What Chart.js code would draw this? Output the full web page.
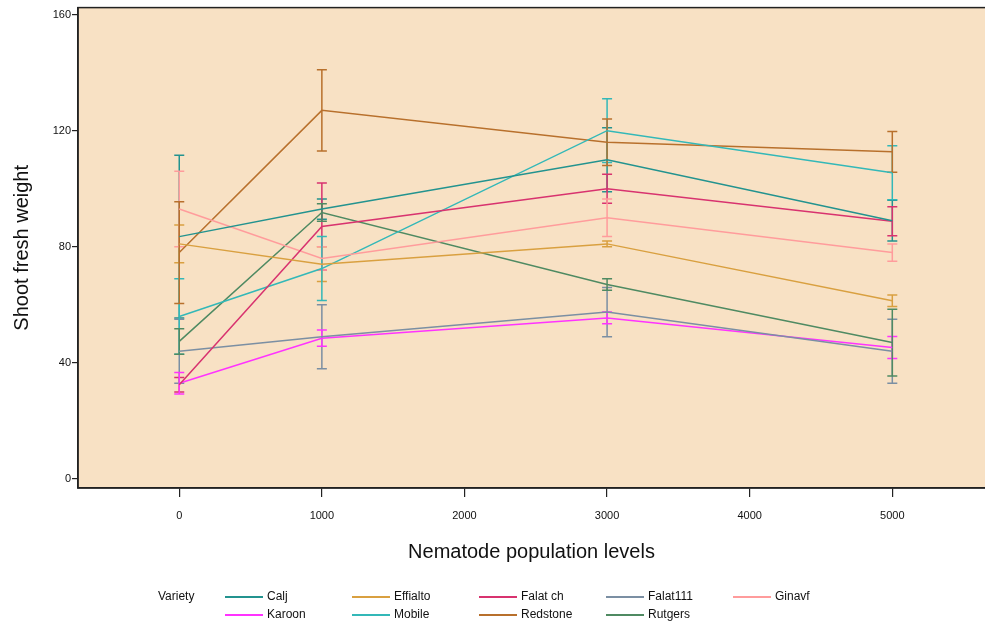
<!DOCTYPE html>
<html>
<head>
<meta charset="utf-8">
<script src="https://cdn.jsdelivr.net/npm/chart.js@4"></script>
<style>
  html, body { margin: 0; padding: 0; background: #fff; }
  #chart { display: block; }
</style>
</head>
<body>
<canvas id="chart" width="985" height="627"></canvas>
<script>
// population levels (x)
const xLevels = [0, 1000, 3000, 5000];
const xTicks = [0, 1000, 2000, 3000, 4000, 5000];
const yTicks = [0, 40, 80, 120, 160];

const varieties = ['Calj', 'Effialto', 'Falat ch', 'Falat111', 'Ginavf', 'Karoon', 'Mobile', 'Redstone', 'Rutgers'];

// means and error (half bar)
const calj = [83.5, 93, 110, 89];
const caljErr = [28, 3.5, 11, 7];
const effialto = [81, 74, 81, 61.4];
const effialtoErr = [6.5, 6, 1, 2];
const falatCh = [32.5, 87, 100, 88.8];
const falatChErr = [2.5, 15, 5, 5];
const falat111 = [44, 49, 57.5, 44];
const falat111Err = [11, 11, 8.5, 11];
const ginavf = [93, 76, 90, 78];
const ginavfErr = [13, 4, 6.5, 3];
const karoon = [33, 48.5, 55.5, 45.3];
const karoonErr = [3.7, 2.8, 2, 3.8];
const mobile = [56, 72.5, 120, 105.5];
const mobileErr = [13, 11, 11, 9.3];
const redstone = [78, 127, 116, 112.7];
const redstoneErr = [17.5, 14, 8, 7];
const rutgers = [47.4, 91.8, 67, 47];
const rutgersErr = [4.4, 3, 2, 11.5];

const means = [calj, effialto, falatCh, falat111, ginavf, karoon, mobile, redstone, rutgers];
const errs = [caljErr, effialtoErr, falatChErr, falat111Err, ginavfErr, karoonErr, mobileErr, redstoneErr, rutgersErr];
const colors = ['#23938f', '#d9a040', '#d8336f', '#7b8fa3', '#ff9c9c', '#ff33ff', '#33b8b8', '#b8702c', '#4f8a62'];

const plotBg = '#f8e1c4';
const font = "'Liberation Sans', Arial, sans-serif";

// фон области графика и рамка
const framePlugin = {
  id: 'frame',
  beforeDraw(chart) {
    const { ctx, chartArea: a } = chart;
    ctx.save();
    ctx.fillStyle = plotBg;
    ctx.fillRect(a.left, a.top, a.right - a.left, a.bottom - a.top);
    ctx.restore();
  },
  afterDraw(chart) {
    const { ctx, chartArea: a } = chart;
    ctx.save();
    ctx.strokeStyle = '#222';
    ctx.lineWidth = 1.5;
    ctx.strokeRect(a.left, a.top, a.right - a.left + 5, a.bottom - a.top);
    ctx.restore();
  },
};

// error bars: vertical line + caps
const errorBarPlugin = {
  id: 'errorBars',
  beforeDatasetsDraw(chart) {
    const { ctx, scales } = chart;
    ctx.save();
    chart.data.datasets.forEach((ds, i) => {
      const e = errs[i];
      ctx.strokeStyle = ds.borderColor;
      ctx.lineWidth = 1.5;
      ds.data.forEach((pt, j) => {
        const x = scales.x.getPixelForValue(pt.x);
        const yTop = scales.y.getPixelForValue(pt.y + e[j]);
        const yBot = scales.y.getPixelForValue(pt.y - e[j]);
        ctx.beginPath();
        ctx.moveTo(x, yTop);
        ctx.lineTo(x, yBot);
        ctx.moveTo(x - 5, yTop);
        ctx.lineTo(x + 5, yTop);
        ctx.moveTo(x - 5, yBot);
        ctx.lineTo(x + 5, yBot);
        ctx.stroke();
      });
    });
    ctx.restore();
  },
};

// легенда внизу, две строки по пять колонок
const legendPlugin = {
  id: 'varietyLegend',
  afterDraw(chart) {
    const { ctx } = chart;
    ctx.save();
    ctx.font = `12px ${font}`;
    ctx.fillStyle = '#111';
    ctx.textBaseline = 'middle';
    ctx.fillText('Variety', 158, 597);
    chart.data.datasets.forEach((ds, i) => {
      const col = i % 5;
      const row = Math.floor(i / 5);
      const x = 225 + col * 127;
      const y = 597 + row * 18;
      ctx.strokeStyle = ds.borderColor;
      ctx.lineWidth = 2;
      ctx.beginPath();
      ctx.moveTo(x, y);
      ctx.lineTo(x + 38, y);
      ctx.stroke();
      ctx.fillStyle = '#111';
      ctx.fillText(ds.label, x + 42, y);
    });
    ctx.restore();
  },
};

const ctx = document.getElementById('chart').getContext('2d');
new Chart(ctx, {
  type: 'line',
  data: {
    datasets: varieties.map((name, i) => ({
      label: name,
      data: xLevels.map((x, j) => ({ x, y: means[i][j] })),
      borderColor: colors[i],
      backgroundColor: colors[i],
      borderWidth: 1.5,
      pointRadius: 0,
      tension: 0,
    })),
  },
  options: {
    responsive: false,
    animation: false,
    layout: { padding: { top: 2, right: 0, bottom: 62, left: 0 } },
    plugins: {
      legend: { display: false },
      tooltip: { enabled: false },
    },
    scales: {
      x: {
        type: 'linear',
        min: -710,
        max: 5650,
        afterBuildTicks: (scale) => { scale.ticks = xTicks.map((v) => ({ value: v })); },
        afterFit: (scale) => { scale.height = 77; },
        grid: { display: true, drawOnChartArea: false, drawTicks: true, tickLength: 9, color: '#222', lineWidth: 1.2 },
        border: { display: true, color: '#222', width: 1.5 },
        ticks: {
          color: '#111',
          font: { family: font, size: 11 },
          padding: 12,
          maxRotation: 0,
          callback: (v) => String(v),
        },
        title: {
          display: true,
          text: 'Nematode population levels',
          color: '#111',
          font: { family: font, size: 20 },
          padding: { top: 0, bottom: 1 },
        },
      },
      y: {
        min: -3.1,
        max: 162.4,
        afterBuildTicks: (scale) => { scale.ticks = yTicks.map((v) => ({ value: v })); },
        afterFit: (scale) => { scale.width = 78; },
        grid: { display: true, drawOnChartArea: false, drawTicks: true, tickLength: 6, color: '#222', lineWidth: 1.2 },
        border: { display: true, color: '#222', width: 1.5 },
        ticks: { color: '#111', font: { family: font, size: 11 }, padding: 1, callback: (v) => String(v) },
        title: {
          display: true,
          text: 'Shoot fresh weight',
          color: '#111',
          font: { family: font, size: 20 },
          padding: { top: 10, bottom: 0 },
        },
      },
    },
  },
  plugins: [framePlugin, errorBarPlugin, legendPlugin],
});
</script>
</body>
</html>
